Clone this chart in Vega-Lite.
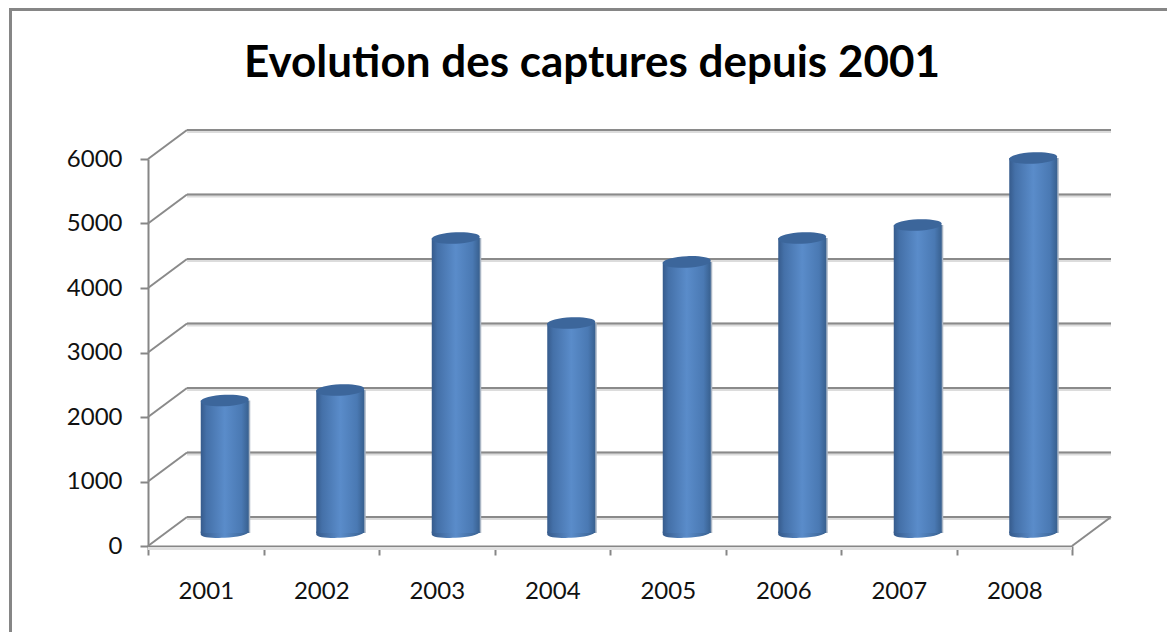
{
"$schema":"https://vega.github.io/schema/vega-lite/v6.json",
"width":924,"height":387,
"autosize":{"type":"none"},
"padding":{"left":148,"top":159,"right":95,"bottom":86},
"background":"white",
"config":{"view":{"stroke":null},"font":"Lato"},
"title":{"text":"Evolution des captures depuis 2001","font":"Lato","fontWeight":"bold","fontSize":44,"color":"#000000","anchor":"middle","dx":-18,"offset":-78},
"datasets":{
"captures":[{"annee":"2001","captures":2054},{"annee":"2002","captures":2217},{"annee":"2003","captures":4574},{"annee":"2004","captures":3256},{"annee":"2005","captures":4202},{"annee":"2006","captures":4574},{"annee":"2007","captures":4775},{"annee":"2008","captures":5814}],
"grille":[{"v":0},{"v":1000},{"v":2000},{"v":3000},{"v":4000},{"v":5000},{"v":6000}]
},
"resolve":{"scale":{"x":"independent"},"axis":{"x":"independent"}},
"layer":[
{"data":{"name":"grille"},
 "layer":[
 {"mark":{"type":"rule","stroke":"#dcdcdc","strokeWidth":4,"xOffset":39,"x2Offset":39,"yOffset":-28},
  "encoding":{"x":{"datum":0,"type":"quantitative","scale":{"domain":[0,8]},"axis":null},"x2":{"datum":8},"y":{"field":"v","type":"quantitative"}}},
 {"mark":{"type":"rule","stroke":"#8a8a8a","strokeWidth":2,"xOffset":39,"x2Offset":39,"yOffset":-29},
  "encoding":{"x":{"datum":0,"type":"quantitative"},"x2":{"datum":8},"y":{"field":"v","type":"quantitative"}}},
 {"mark":{"type":"rule","stroke":"#8a8a8a","strokeWidth":2,"x2Offset":39,"y2Offset":-29},
  "encoding":{"x":{"datum":0,"type":"quantitative"},"x2":{"datum":0},"y":{"field":"v","type":"quantitative"},"y2":{"field":"v"}}},
 {"transform":[{"filter":"datum.v === 0"}],
  "mark":{"type":"rule","stroke":"#8a8a8a","strokeWidth":2,"x2Offset":39,"y2Offset":-29},
  "encoding":{"x":{"datum":8,"type":"quantitative"},"x2":{"datum":8},"y":{"field":"v","type":"quantitative"},"y2":{"field":"v"}}},
 {"transform":[{"filter":"datum.v === 0"}],
  "mark":{"type":"rule","stroke":"#e0e0e0","strokeWidth":3,"yOffset":2.5},
  "encoding":{"x":{"datum":0,"type":"quantitative"},"x2":{"datum":8},"y":{"field":"v","type":"quantitative"}}},
 {"transform":[{"filter":"datum.v === 0"}],
  "mark":{"type":"rule","stroke":"#868686","strokeWidth":3,"xOffset":-137.5,"yOffset":90,"y2Offset":-149.5},
  "encoding":{"x":{"datum":0,"type":"quantitative"},"y":{"datum":0,"type":"quantitative"},"y2":{"datum":6000}}},
 {"transform":[{"filter":"datum.v === 0"}],
  "mark":{"type":"rule","stroke":"#868686","strokeWidth":3,"xOffset":-139,"x2Offset":95,"yOffset":-149.5},
  "encoding":{"x":{"datum":0,"type":"quantitative"},"x2":{"datum":8},"y":{"datum":6000,"type":"quantitative"}}}
 ]},
{"data":{"name":"captures"},
 "encoding":{"x":{"field":"annee","type":"ordinal","title":null,"scale":{"paddingInner":0,"paddingOuter":0},
   "axis":{"orient":"bottom","labelAngle":0,"labelFont":"Lato","labelFontSize":24,"labelColor":"#111111","labelPadding":24,"tickBand":"extent","tickSize":9,"tickColor":"#868686","tickWidth":2,"domainColor":"#868686","domainWidth":2,"labelFlush":false}}},
 "layer":[
 {"mark":{"type":"bar","size":48,"xOffset":20.5,"yOffset":-13,"y2Offset":-13,"fill":"#a9b5c4"},
  "encoding":{"y":{"field":"captures","type":"quantitative"},"y2":{"datum":0}}},
 {"mark":{"type":"point","filled":true,"opacity":1,"size":2304,"xOffset":19,"yOffset":-13,"shape":"M-1,0.06 C-1,0.18 -0.5,0.22 0,0.2 C0.5,0.18 1,0.08 1,-0.06 L-1,-0.06 Z",
   "fill":{"x1":0,"y1":0,"x2":1,"y2":0,"gradient":"linear","stops":[{"offset":0,"color":"#365b8c"},{"offset":0.5,"color":"#5a8cca"},{"offset":1,"color":"#38608f"}]}},
  "encoding":{"y":{"datum":0,"type":"quantitative"}}},
 {"mark":{"type":"bar","size":48,"xOffset":19,"yOffset":-13,"y2Offset":-13,
   "fill":{"x1":0,"y1":0,"x2":1,"y2":0,"gradient":"linear","stops":[{"offset":0,"color":"#365b8c"},{"offset":0.12,"color":"#4470a8"},{"offset":0.5,"color":"#5a8cca"},{"offset":0.85,"color":"#4a79b3"},{"offset":1,"color":"#38608f"}]}},
  "encoding":{"y":{"field":"captures","type":"quantitative","title":null,"scale":{"domain":[0,6000],"nice":false},
     "axis":{"orient":"left","values":[0,1000,2000,3000,4000,5000,6000],"format":"d","grid":false,"labelFont":"Lato","labelFontSize":24,"labelColor":"#111111","labelPadding":18,"tickSize":8,"tickColor":"#868686","tickWidth":2,"domainColor":"#868686","domainWidth":2}},
   "y2":{"datum":0}}},
 {"mark":{"type":"point","filled":true,"opacity":1,"size":2304,"fill":"#3c669b","xOffset":19,"yOffset":-13,"shape":"M-1,0.05 C-1,-0.11 -0.5,-0.22 0,-0.24 C0.5,-0.26 1,-0.2 1,-0.05 C1,0.11 0.5,0.22 0,0.24 C-0.5,0.26 -1,0.2 -1,0.05 Z"},
  "encoding":{"y":{"field":"captures","type":"quantitative"}}}
 ]}
]
}
